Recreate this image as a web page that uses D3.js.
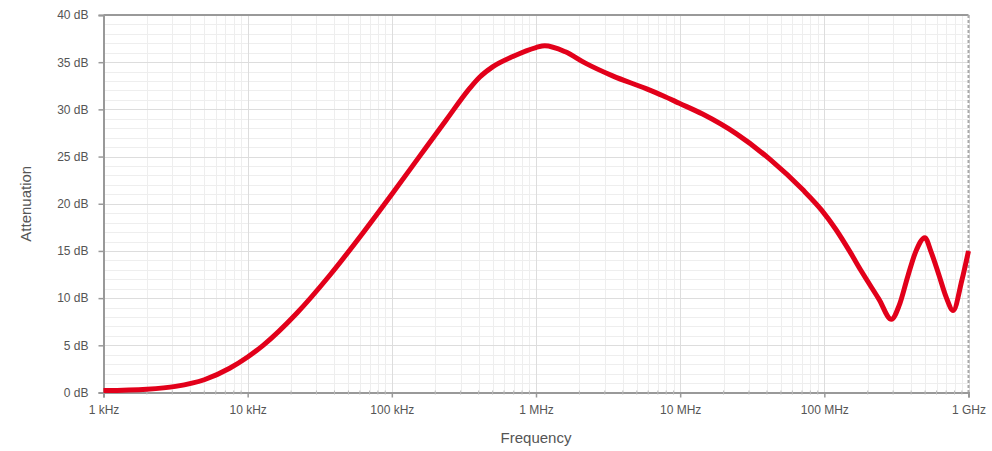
<!DOCTYPE html>
<html><head><meta charset="utf-8">
<script src="https://cdn.jsdelivr.net/npm/d3@7"></script>
<style>body{margin:0;background:#fff;}svg{display:block;font-family:"Liberation Sans",Arial,sans-serif;}</style>
</head><body>
<svg id="chart" width="992" height="451"></svg>
<script>
// Data
const freqHz = [1e3, 2e3, 3.16e3, 5e3, 7.5e3, 1e4, 1.28e4, 2.19e4, 3.7e4, 6.3e4, 1e5, 1.57e5, 2.39e5, 3.5e5, 4.06e5, 5e5, 6.91e5, 1e6, 1.15e6, 1.6e6, 2.2e6, 3.4e6, 5.8e6, 7.6e6, 9.86e6, 1.43e7, 2.46e7, 4.2e7, 7.07e7, 9.6e7, 1.2e8, 1.5e8, 1.8e8, 2.39e8, 2.92e8, 3.3e8, 3.79e8, 4.3e8, 4.98e8, 5.5e8, 6.22e8, 7e8, 7.82e8, 9e8, 1e9];
const attenuationDb = [0.2, 0.35, 0.65, 1.35, 2.57, 3.76, 5.0, 8.4, 12.4, 16.9, 21.0, 25.1, 28.9, 32.3, 33.4, 34.5, 35.6, 36.55, 36.75, 36.1, 34.9, 33.55, 32.2, 31.45, 30.65, 29.5, 27.4, 24.7, 21.5, 19.3, 17.3, 14.95, 12.9, 9.9, 7.75, 9.2, 12.3, 14.9, 16.4, 14.9, 12.5, 10.1, 8.7, 11.9, 15.0];
const xTickValues = [1e3, 1e4, 1e5, 1e6, 1e7, 1e8, 1e9];
const xTickLabels = ["1 kHz", "10 kHz", "100 kHz", "1 MHz", "10 MHz", "100 MHz", "1 GHz"];
const yTickValues = [0, 5, 10, 15, 20, 25, 30, 35, 40];
const yTickLabels = yTickValues.map(v => v + " dB");

const svg = d3.select("#chart");
const pL = 103.5, pR = 968.5, pT = 15, pB = 392.5;
const x = d3.scaleLog().domain([1e3, 1e9]).range([pL, pR]);
const y = d3.scaleLinear().domain([0, 40]).range([pB, pT]);

// minor grid
const minorX = [];
for (let d = 1e3; d < 1e9; d *= 10) for (let k = 2; k <= 9; k++) minorX.push(d * k);
const minorY = d3.range(0, 41, 1).filter(v => v % 5 !== 0);
const g = svg.append("g");
g.selectAll(".mx").data(minorX).enter().append("line")
  .attr("x1", d => Math.round(x(d)) + 0.5).attr("x2", d => Math.round(x(d)) + 0.5)
  .attr("y1", pT).attr("y2", pB).attr("stroke", "#eeeeee").attr("stroke-width", 1);
g.selectAll(".my").data(minorY).enter().append("line")
  .attr("x1", pL).attr("x2", pR)
  .attr("y1", d => Math.round(y(d)) + 0.5).attr("y2", d => Math.round(y(d)) + 0.5)
  .attr("stroke", "#eeeeee").attr("stroke-width", 1);
// major grid
g.selectAll(".Mx").data(xTickValues).enter().append("line")
  .attr("x1", d => Math.round(x(d)) + 0.5).attr("x2", d => Math.round(x(d)) + 0.5)
  .attr("y1", pT).attr("y2", pB).attr("stroke", "#dddddd").attr("stroke-width", 1);
g.selectAll(".My").data(yTickValues).enter().append("line")
  .attr("x1", pL).attr("x2", pR)
  .attr("y1", d => Math.round(y(d)) + 0.5).attr("y2", d => Math.round(y(d)) + 0.5)
  .attr("stroke", "#dddddd").attr("stroke-width", 1);

// top border and right dashed border
svg.append("line").attr("x1", pL).attr("x2", pR).attr("y1", pT).attr("y2", pT)
  .attr("stroke", "#999").attr("stroke-width", 2);
svg.append("line").attr("x1", pR).attr("x2", pR).attr("y1", pT).attr("y2", pB)
  .attr("stroke", "#aaa").attr("stroke-width", 2).attr("stroke-dasharray", "3,2");

// axes
const yAxis = d3.axisLeft(y).tickValues(yTickValues).tickFormat((d, i) => yTickLabels[i]).tickSize(5).tickPadding(10);
const ya = svg.append("g").attr("transform", `translate(${pL},0)`).call(yAxis);
ya.select(".domain").attr("stroke", "#999").attr("stroke-width", 2);
ya.selectAll(".tick line").attr("stroke", "#999").attr("stroke-width", 1.5);
ya.selectAll("text").attr("fill", "#555").style("font-size", "12px");

const xAxis = d3.axisBottom(x).tickValues(xTickValues).tickFormat((d, i) => xTickLabels[i]).tickSize(5).tickPadding(8);
const xa = svg.append("g").attr("transform", `translate(0,${pB})`).call(xAxis);
xa.select(".domain").attr("stroke", "#999").attr("stroke-width", 2);
xa.selectAll(".tick line").attr("stroke", "#999").attr("stroke-width", 1.5);
xa.selectAll("text").attr("fill", "#555").style("font-size", "12px");
xa.selectAll(".minor").data(minorX).enter().append("line").attr("class", "minor")
  .attr("x1", d => x(d)).attr("x2", d => x(d)).attr("y1", -2).attr("y2", 2)
  .attr("stroke", "#bbb").attr("stroke-width", 1);

// titles
svg.append("text").attr("x", (pL + pR) / 2).attr("y", 443).attr("text-anchor", "middle")
  .attr("fill", "#555").style("font-size", "15px").text("Frequency");
svg.append("text").attr("transform", `translate(31,${(pT + pB) / 2}) rotate(-90)`)
  .attr("text-anchor", "middle").attr("fill", "#555").style("font-size", "15px").text("Attenuation");

// curve
const pts = freqHz.map((f, i) => [f, attenuationDb[i]]);
const line = d3.line().x(d => x(d[0])).y(d => y(d[1])).curve(d3.curveMonotoneX);
svg.append("path").datum(pts).attr("d", line).attr("fill", "none")
  .attr("stroke", "#e2001a").attr("stroke-width", 5).attr("stroke-linejoin", "round").attr("stroke-linecap", "butt");
</script>
</body></html>
